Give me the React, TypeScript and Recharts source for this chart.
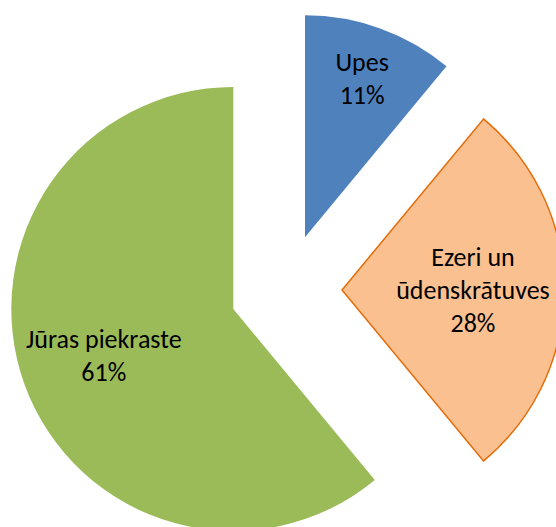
import { Pie, PieChart, Sector } from 'recharts';

const names = ['Upes', 'Ezeri un\nūdenskrātuves', 'Jūras piekraste'];
const values = [11, 28, 61];

const FILLS = ['#4F81BD', '#FAC090', '#9BBB59'];
const STROKES = ['none', '#E46C0A', 'none'];
// how far along the radius each label sits (Excel "best fit")
const LABEL_POS = [0.76, 0.59, 0.62];
const EXPLODE = 56;
const RAD = Math.PI / 180;

const data = names.map((name, i) => ({ name, value: values[i] }));

// eslint-disable-next-line @typescript-eslint/no-explicit-any
function ExplodedSlice(props: any) {
  const { cx, cy, midAngle, startAngle, endAngle, outerRadius, percent, index, name } = props;
  const ux = Math.cos(-midAngle * RAD);
  const uy = Math.sin(-midAngle * RAD);
  const ox = cx + EXPLODE * ux;
  const oy = cy + EXPLODE * uy;
  const lr = outerRadius * LABEL_POS[index];
  const lx = ox + lr * ux;
  const ly = oy + lr * uy;
  const lines = [...String(name).split('\n'), `${Math.round(percent * 100)}%`];
  const lh = 33;
  const y0 = ly - ((lines.length - 1) * lh) / 2;
  return (
    <g>
      <Sector
        cx={ox}
        cy={oy}
        innerRadius={0}
        outerRadius={outerRadius}
        startAngle={startAngle}
        endAngle={endAngle}
        fill={FILLS[index]}
        stroke={STROKES[index]}
        strokeWidth={1.5}
      />
      <text textAnchor='middle' dominantBaseline='central' fontSize={26} fill='#000' fontFamily='Calibri, Carlito, Lato, sans-serif'>
        {lines.map((line, i) => (
          <tspan key={i} x={lx} y={y0 + i * lh}>
            {line}
          </tspan>
        ))}
      </text>
    </g>
  );
}

export default function App() {
  return (
    <div style={{ position: 'absolute', left: 0, top: 0 }}>
      <PieChart width={556} height={527}>
        <Pie
          data={data}
          dataKey='value'
          nameKey='name'
          cx={281}
          cy={285}
          outerRadius={222}
          startAngle={90}
          endAngle={-270}
          fill='none'
          stroke='none'
          labelLine={false}
          label={ExplodedSlice}
          isAnimationActive={false}
        />
      </PieChart>
    </div>
  );
}
